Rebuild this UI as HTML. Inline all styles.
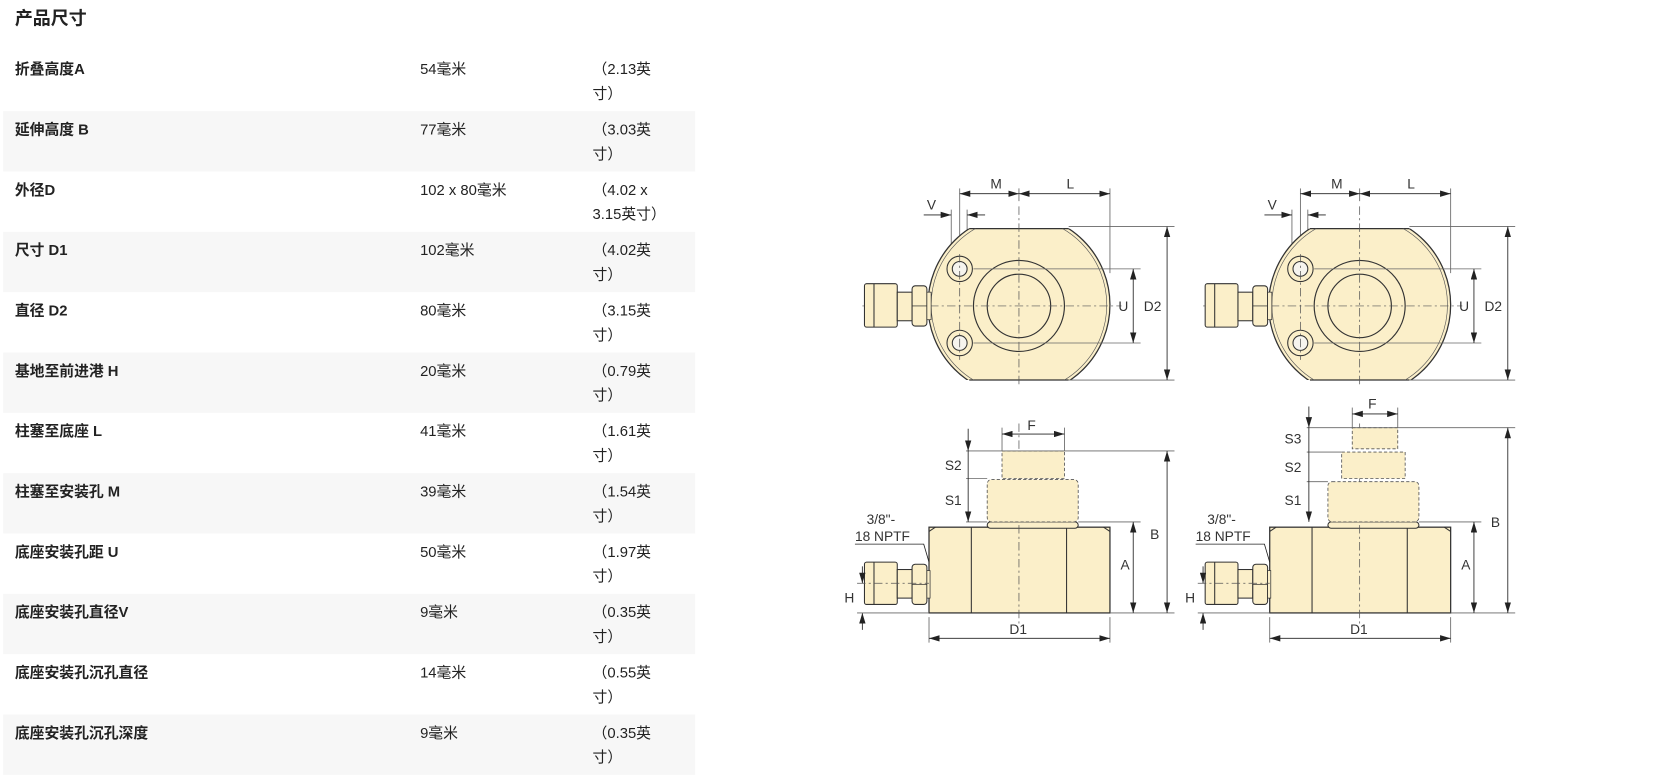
<!DOCTYPE html>
<html><head><meta charset="utf-8"><style>
html,body{margin:0;padding:0;background:#fff;width:1658px;height:777px;overflow:hidden}
#w{position:absolute;left:0;top:0;width:1567px;height:734px;transform:scale(1.0581,1.0586);transform-origin:0 0;font-family:"Liberation Sans","Noto Sans CJK SC",sans-serif;color:#222}
h1{position:absolute;left:14px;top:3px;margin:0;font-size:17px;font-weight:bold}
.r{position:absolute;left:3px;width:654px;height:57px;font-size:14px;line-height:23px}
.r.g{background:#f7f7f7}
.r div{position:absolute;top:6px}
.a{left:11px;font-weight:bold}.b{left:394px}.c{left:557px}
svg{position:absolute;left:0;top:0}
</style></head><body><div id="w">
<h1>产品尺寸</h1>
<div class="r" style="top:48px"><div class="a">折叠高度A</div><div class="b">54毫米</div><div class="c">（2.13英<br>寸）</div></div>
<div class="r g" style="top:105px"><div class="a">延伸高度 B</div><div class="b">77毫米</div><div class="c">（3.03英<br>寸）</div></div>
<div class="r" style="top:162px"><div class="a">外径D</div><div class="b">102 x 80毫米</div><div class="c">（4.02 x<br>3.15英寸）</div></div>
<div class="r g" style="top:219px"><div class="a">尺寸 D1</div><div class="b">102毫米</div><div class="c">（4.02英<br>寸）</div></div>
<div class="r" style="top:276px"><div class="a">直径 D2</div><div class="b">80毫米</div><div class="c">（3.15英<br>寸）</div></div>
<div class="r g" style="top:333px"><div class="a">基地至前进港 H</div><div class="b">20毫米</div><div class="c">（0.79英<br>寸）</div></div>
<div class="r" style="top:390px"><div class="a">柱塞至底座 L</div><div class="b">41毫米</div><div class="c">（1.61英<br>寸）</div></div>
<div class="r g" style="top:447px"><div class="a">柱塞至安装孔 M</div><div class="b">39毫米</div><div class="c">（1.54英<br>寸）</div></div>
<div class="r" style="top:504px"><div class="a">底座安装孔距 U</div><div class="b">50毫米</div><div class="c">（1.97英<br>寸）</div></div>
<div class="r g" style="top:561px"><div class="a">底座安装孔直径V</div><div class="b">9毫米</div><div class="c">（0.35英<br>寸）</div></div>
<div class="r" style="top:618px"><div class="a">底座安装孔沉孔直径</div><div class="b">14毫米</div><div class="c">（0.55英<br>寸）</div></div>
<div class="r g" style="top:675px"><div class="a">底座安装孔沉孔深度</div><div class="b">9毫米</div><div class="c">（0.35英<br>寸）</div></div>

<svg width="1567" height="734" viewBox="0 0 1567 734" font-family="Liberation Sans,sans-serif" font-size="13" fill="#333">
<defs>
<marker id="ar" viewBox="0 0 10 6" refX="10" refY="3" markerWidth="10" markerHeight="6" orient="auto-start-reverse" markerUnits="userSpaceOnUse"><path d="M0,0L10,3L0,6z" fill="#222"/></marker>
<clipPath id="cp"><rect x="860" y="216" width="200" height="143"/></clipPath>
<g id="top">
 <line x1="907" y1="178" x2="907" y2="240" stroke="#666" stroke-width=".8"/>
 <line x1="1049" y1="178" x2="1049" y2="258" stroke="#666" stroke-width=".8"/>
 <line x1="963" y1="178" x2="963" y2="190" stroke="#666" stroke-width=".8"/>
 <line x1="907" y1="183" x2="963" y2="183" stroke="#222" stroke-width=".8" marker-start="url(#ar)" marker-end="url(#ar)"/>
 <line x1="963" y1="183" x2="1049" y2="183" stroke="#222" stroke-width=".8" marker-start="url(#ar)" marker-end="url(#ar)"/>
 <text x="936" y="178">M</text><text x="1008" y="178">L</text>
 <line x1="899" y1="198" x2="899" y2="246" stroke="#666" stroke-width=".8"/>
 <line x1="914" y1="198" x2="914" y2="246" stroke="#666" stroke-width=".8"/>
 <line x1="873" y1="203" x2="899" y2="203" stroke="#222" stroke-width=".8" marker-end="url(#ar)"/>
 <line x1="931" y1="203" x2="914" y2="203" stroke="#222" stroke-width=".8" marker-end="url(#ar)"/>
 <text x="876" y="198">V</text>
 <circle cx="963" cy="288" r="86" fill="#fbefc9" stroke="#333" stroke-width="1.2" clip-path="url(#cp)"/>
 <line x1="916" y1="216" x2="1010" y2="216" stroke="#333" stroke-width="1.2"/>
 <line x1="916" y1="359" x2="1010" y2="359" stroke="#333" stroke-width="1.2"/>
 <circle cx="963" cy="288" r="83" fill="none" stroke="#555" stroke-width=".6" clip-path="url(#cp)"/>
 <circle cx="963" cy="289" r="43" fill="none" stroke="#333" stroke-width="1.1"/>
 <circle cx="963" cy="289" r="30" fill="none" stroke="#333" stroke-width="1.1"/>
 <circle cx="907" cy="254" r="12" fill="#fbefc9" stroke="#333"/><circle cx="907" cy="254" r="7" fill="#f6f4ee" stroke="#333"/>
 <circle cx="907" cy="324" r="12" fill="#fbefc9" stroke="#333"/><circle cx="907" cy="324" r="7" fill="#f6f4ee" stroke="#333"/>
 <g stroke="#555" stroke-width=".7" stroke-dasharray="8,3,2,3">
  <line x1="815" y1="289" x2="1060" y2="289"/><line x1="963" y1="195" x2="963" y2="365"/><line x1="907" y1="240" x2="907" y2="340"/>
 </g>
 <rect x="817" y="268" width="31" height="41" rx="2" fill="#fbefc9" stroke="#333"/>
 <line x1="826" y1="268" x2="826" y2="309" stroke="#333"/>
 <rect x="848" y="276" width="14" height="27" fill="#fbefc9" stroke="#333"/>
 <rect x="862" y="270" width="14" height="38" rx="3" fill="#fbefc9" stroke="#333"/>
 <line x1="862" y1="289" x2="876" y2="289" stroke="#333" stroke-width=".7"/>
 <rect x="876" y="276" width="4" height="26" fill="#fbefc9" stroke="#333" stroke-width=".7"/>
 <line x1="920" y1="254" x2="1078" y2="254" stroke="#666" stroke-width=".8"/>
 <line x1="920" y1="324" x2="1078" y2="324" stroke="#666" stroke-width=".8"/>
 <line x1="1071" y1="254" x2="1071" y2="324" stroke="#222" stroke-width=".8" marker-start="url(#ar)" marker-end="url(#ar)"/>
 <text x="1057" y="294">U</text>
 <line x1="1010" y1="214" x2="1110" y2="214" stroke="#666" stroke-width=".8"/>
 <line x1="1010" y1="359" x2="1110" y2="359" stroke="#666" stroke-width=".8"/>
 <line x1="1103" y1="214" x2="1103" y2="359" stroke="#222" stroke-width=".8" marker-start="url(#ar)" marker-end="url(#ar)"/>
 <text x="1081" y="294">D2</text>
</g>
<g id="base">
 <rect x="878" y="498" width="171" height="81" fill="#fbefc9" stroke="#333" stroke-width="1.2"/>
 <path d="M918,498V579M1008,498V579M878,502L884,498M1049,502L1043,498" stroke="#333" fill="none"/>
 <rect x="933" y="493" width="86" height="6" rx="3" fill="#fbefc9" stroke="#333"/>
 <line x1="963" y1="400" x2="963" y2="590" stroke="#555" stroke-width=".7" stroke-dasharray="8,3,2,3"/>
 <rect x="817" y="531" width="31" height="40" rx="2" fill="#fbefc9" stroke="#333"/>
 <line x1="826" y1="531" x2="826" y2="571" stroke="#333"/>
 <rect x="848" y="538" width="14" height="27" fill="#fbefc9" stroke="#333"/>
 <rect x="862" y="533" width="14" height="38" rx="3" fill="#fbefc9" stroke="#333"/>
 <line x1="862" y1="552" x2="876" y2="552" stroke="#333" stroke-width=".7"/>
 <rect x="876" y="539" width="3" height="26" fill="#fbefc9" stroke="#333" stroke-width=".7"/>
 <line x1="810" y1="551" x2="878" y2="551" stroke="#555" stroke-width=".7" stroke-dasharray="8,3,2,3"/>
 <line x1="815" y1="535" x2="815" y2="551" stroke="#222" stroke-width=".8" marker-end="url(#ar)"/>
 <line x1="815" y1="595" x2="815" y2="579" stroke="#222" stroke-width=".8" marker-end="url(#ar)"/>
 <line x1="810" y1="579" x2="878" y2="579" stroke="#666" stroke-width=".8"/>
 <text x="798" y="569">H</text>
 <text x="819" y="495">3/8"-</text><text x="808" y="511">18 NPTF</text>
 <polyline points="808,514 873,514 878,531" fill="none" stroke="#222" stroke-width=".8"/>
 <line x1="878" y1="583" x2="878" y2="607" stroke="#666" stroke-width=".8"/>
 <line x1="1049" y1="583" x2="1049" y2="607" stroke="#666" stroke-width=".8"/>
 <line x1="878" y1="603" x2="1049" y2="603" stroke="#222" stroke-width=".8" marker-start="url(#ar)" marker-end="url(#ar)"/>
 <text x="954" y="599">D1</text>
 <line x1="1049" y1="579" x2="1110" y2="579" stroke="#666" stroke-width=".8"/>
 <line x1="1019" y1="493" x2="1078" y2="493" stroke="#666" stroke-width=".8"/>
 <line x1="1071" y1="493" x2="1071" y2="579" stroke="#222" stroke-width=".8" marker-start="url(#ar)" marker-end="url(#ar)"/>
 <text x="1059" y="538">A</text>
</g>
</defs>

<use href="#top"/>
<use href="#top" transform="translate(322,0)"/>
<use href="#base"/>
<use href="#base" transform="translate(322,0)"/>

<!-- left side view extras -->
<g stroke-width=".8">
 <rect x="933" y="453" width="86" height="40" rx="4" fill="#fbefc9" stroke="#555" stroke-dasharray="3,2"/>
 <rect x="947" y="426" width="59" height="26" fill="#fbefc9" stroke="#555" stroke-dasharray="3,2"/>
 <line x1="947" y1="404" x2="947" y2="426" stroke="#666"/><line x1="1006" y1="404" x2="1006" y2="426" stroke="#666"/>
 <line x1="947" y1="410" x2="1006" y2="410" stroke="#222" marker-start="url(#ar)" marker-end="url(#ar)"/>
 <text x="971" y="406" stroke="none">F</text>
 <line x1="913" y1="426" x2="1110" y2="426" stroke="#666"/>
 <line x1="913" y1="452" x2="933" y2="452" stroke="#666"/>
 <line x1="913" y1="493" x2="933" y2="493" stroke="#666"/>
 <line x1="915" y1="405" x2="915" y2="426" stroke="#222" marker-end="url(#ar)"/>
 <line x1="915" y1="426" x2="915" y2="493" stroke="#222" marker-end="url(#ar)"/>
 <line x1="1103" y1="426" x2="1103" y2="579" stroke="#222" marker-start="url(#ar)" marker-end="url(#ar)"/>
 <text x="893" y="444" stroke="none">S2</text><text x="893" y="477" stroke="none">S1</text>
 <text x="1087" y="509" stroke="none">B</text>
</g>
<!-- right side view extras -->
<g stroke-width=".8">
 <rect x="1255" y="455" width="86" height="38" rx="4" fill="#fbefc9" stroke="#555" stroke-dasharray="3,2"/>
 <rect x="1268" y="427" width="60" height="25" fill="#fbefc9" stroke="#555" stroke-dasharray="3,2"/>
 <rect x="1278" y="404" width="43" height="20" fill="#fbefc9" stroke="#555" stroke-dasharray="3,2"/>
 <line x1="1278" y1="385" x2="1278" y2="404" stroke="#666"/><line x1="1321" y1="385" x2="1321" y2="404" stroke="#666"/>
 <line x1="1278" y1="391" x2="1321" y2="391" stroke="#222" marker-start="url(#ar)" marker-end="url(#ar)"/>
 <text x="1293" y="386" stroke="none">F</text>
 <line x1="1235" y1="404" x2="1432" y2="404" stroke="#666"/>
 <line x1="1235" y1="427" x2="1268" y2="427" stroke="#666"/>
 <line x1="1235" y1="455" x2="1255" y2="455" stroke="#666"/>
 <line x1="1237" y1="384" x2="1237" y2="404" stroke="#222" marker-end="url(#ar)"/>
 <line x1="1237" y1="404" x2="1237" y2="493" stroke="#222" marker-end="url(#ar)"/>
 <line x1="1425" y1="404" x2="1425" y2="579" stroke="#222" marker-start="url(#ar)" marker-end="url(#ar)"/>
 <text x="1214" y="419" stroke="none">S3</text><text x="1214" y="446" stroke="none">S2</text><text x="1214" y="477" stroke="none">S1</text>
 <text x="1409" y="498" stroke="none">B</text>
</g>
</svg>
</div></body></html>
